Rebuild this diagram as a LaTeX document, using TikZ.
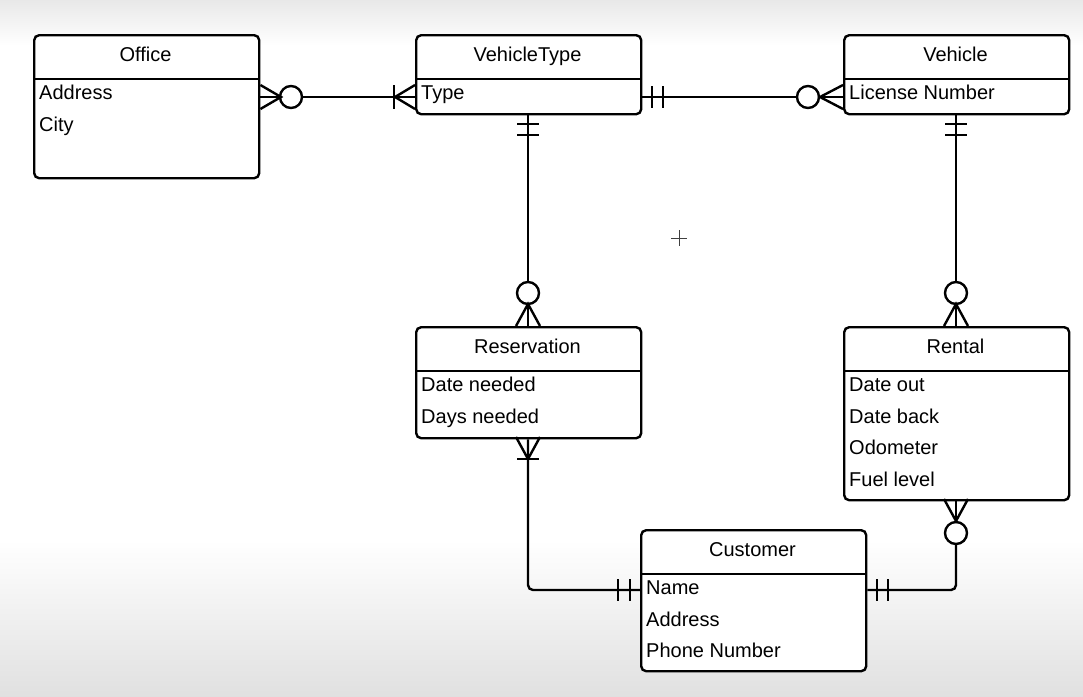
\documentclass[tikz,border=0pt]{standalone}
\usepackage{fontspec}
\setmainfont{Liberation Sans}
\begin{document}
\begin{tikzpicture}[x=1pt,y=-1pt,
  ent/.style={draw=black, line width=2.4pt, rounded corners=5pt, fill=white, anchor=north west, inner sep=0pt, minimum width=225pt},
  hdr/.style={anchor=base, font=\fontsize{20}{23}\selectfont},
  att/.style={anchor=base west, inner sep=0pt, font=\fontsize{20}{23}\selectfont},
  ln/.style={line width=2.4pt, line cap=butt},
  sym/.style={line width=2.4pt}
]
% background
\useasboundingbox (0,0) rectangle (1083,696);
\fill[white] (0,0) rectangle (1083,696);
\shade[top color=black!9, bottom color=white] (0,0) rectangle (1083,45);
\shade[top color=white, bottom color=black!12] (0,540) rectangle (1083,696);

% entities
\node[ent, minimum height=143pt] (office) at (33,34) {};
\node[ent, minimum height=79pt] (vtype) at (415,34) {};
\node[ent, minimum height=79pt] (veh) at (843,34) {};
\node[ent, minimum height=111pt] (res) at (415,326) {};
\node[ent, minimum height=173pt] (rent) at (843,326) {};
\node[ent, minimum height=141pt] (cust) at (640,529) {};

% dividers
\draw[ln] (33,79) -- (258,79);
\draw[ln] (415,79) -- (640,79);
\draw[ln] (843,79) -- (1068,79);
\draw[ln] (415,371) -- (640,371);
\draw[ln] (843,371) -- (1068,371);
\draw[ln] (640,574) -- (865,574);

% titles
\node[hdr] (t1) at (145.5,61) {Office};
\node[hdr] (t2) at (527.5,61) {VehicleType};
\node[hdr] (t3) at (955.5,61) {Vehicle};
\node[hdr] (t4) at (527.5,353) {Reservation};
\node[hdr] (t5) at (955.5,353) {Rental};
\node[hdr] (t6) at (752.5,556) {Customer};

% attributes
\node[att] (a1) at (39,99) {Address};
\node[att] (a2) at (39,131) {City};
\node[att] (a3) at (421,99) {Type};
\node[att] (a4) at (849,99) {License Number};
\node[att] (a5) at (421,391) {Date needed};
\node[att] (a6) at (421,423) {Days needed};
\node[att] (a7) at (849,391) {Date out};
\node[att] (a8) at (849,423) {Date back};
\node[att] (a9) at (849,454) {Odometer};
\node[att] (a10) at (849,486) {Fuel level};
\node[att] (a11) at (646,594) {Name};
\node[att] (a12) at (646,626) {Address};
\node[att] (a13) at (646,657) {Phone Number};

% connection points
\coordinate (c1) at (office.east |- 0,97);
\coordinate (c2) at (vtype.west |- 0,97);
\coordinate (c3) at (vtype.east |- 0,97);
\coordinate (c4) at (veh.west |- 0,97);
\coordinate (c5) at (528,0 |- vtype.south);
\coordinate (c6) at (528,0 |- res.north);
\coordinate (c7) at (956,0 |- veh.south);
\coordinate (c8) at (956,0 |- rent.north);
\coordinate (c9) at (528,0 |- res.south);
\coordinate (c10) at (cust.west |- 0,590);
\coordinate (c11) at (956,0 |- rent.south);
\coordinate (c12) at (cust.east |- 0,590);

% Office -- VehicleType
\draw[ln] (c1) -- (280,97);
\draw[ln] (302,97) -- (c2);
\draw[sym] (c1|-0,85) -- (281,97) -- (c1|-0,109);
\draw[sym] (291,97) circle (11);
\draw[sym] (c2|-0,85) -- (395,97) -- (c2|-0,109);
\draw[sym] (394,85) -- (394,109);

% VehicleType -- Vehicle
\draw[ln] (c3) -- (797,97);
\draw[ln] (819,97) -- (c4);
\draw[sym] (652,86) -- (652,108);
\draw[sym] (663,86) -- (663,108);
\draw[sym] (808,97) circle (11);
\draw[sym] (c4|-0,85) -- (820,97) -- (c4|-0,109);

% VehicleType -- Reservation
\draw[ln] (c5) -- (528,282);
\draw[ln] (528,304) -- (c6);
\draw[sym] (517,124) -- (539,124);
\draw[sym] (517,135) -- (539,135);
\draw[sym] (528,293) circle (11);
\draw[sym] (516,326) -- (528,304) -- (540,326);

% Vehicle -- Rental
\draw[ln] (c7) -- (956,282);
\draw[ln] (956,304) -- (c8);
\draw[sym] (945,124) -- (967,124);
\draw[sym] (945,135) -- (967,135);
\draw[sym] (956,293) circle (11);
\draw[sym] (944,326) -- (956,304) -- (968,326);

% Reservation -- Customer
\draw[ln, rounded corners=5pt] (c9) -- (528,590) -- (c10);
\draw[sym] (516,437) -- (528,459) -- (540,437);
\draw[sym] (517,459) -- (539,459);
\draw[sym] (618,579) -- (618,601);
\draw[sym] (630,579) -- (630,601);

% Rental -- Customer
\draw[ln] (c11) -- (956,522);
\draw[ln, rounded corners=5pt] (956,544) -- (956,590) -- (c12);
\draw[sym] (944,499) -- (956,521) -- (968,499);
\draw[sym] (956,533) circle (11);
\draw[sym] (877,579) -- (877,601);
\draw[sym] (888,579) -- (888,601);

% cursor
\draw[black!75, line width=0.9pt] (671,238) -- (687,238) (679,230) -- (679,246);
\end{tikzpicture}
\end{document}
